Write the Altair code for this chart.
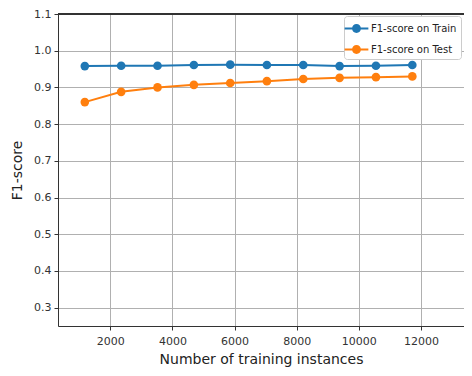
import altair as alt
import pandas as pd

sizes = [1180, 2350, 3520, 4690, 5860, 7040, 8210, 9380, 10550, 11720]
train_f1 = [0.958, 0.959, 0.959, 0.961, 0.962, 0.961, 0.961, 0.958, 0.959, 0.961]
test_f1 = [0.860, 0.888, 0.900, 0.907, 0.912, 0.917, 0.923, 0.926, 0.928, 0.930]
series = ["F1-score on Train", "F1-score on Test"]
colors = ["#1f77b4", "#ff7f0e"]
x_ticks = [2000, 4000, 6000, 8000, 10000, 12000]
y_ticks = [0.3, 0.4, 0.5, 0.6, 0.7, 0.8, 0.9, 1.0, 1.1]
y_top = 1.1

rows = []
for s, vals in zip(series, [train_f1, test_f1]):
    for x, v in zip(sizes, vals):
        rows.append({"n": x, "f1": v, "series": s})
df = pd.DataFrame(rows)

font = "DejaVu Sans"
xscale = alt.Scale(domain=[317, 13384], nice=False, zero=False)
yscale = alt.Scale(domain=[0.25, 1.1], nice=False, zero=False)
xaxis = alt.Axis(values=x_ticks, format="d", title="Number of training instances",
                 titleFontSize=14, titleFont=font, titleFontWeight="normal",
                 titleColor="#222", labelFont=font, labelFontSize=11,
                 labelColor="#333", tickColor="#333", domainColor="#333",
                 tickSize=4, labelPadding=5, titlePadding=6,
                 gridColor="#b0b0b0", gridWidth=1, labelFlush=False)
yaxis = alt.Axis(values=y_ticks, format=".1f", title="F1-score",
                 titleFontSize=14, titleFont=font, titleFontWeight="normal",
                 titleColor="#222", labelFont=font, labelFontSize=11,
                 labelColor="#333", tickColor="#333", domainColor="#333",
                 tickSize=4, labelPadding=3, titlePadding=9,
                 gridColor="#b0b0b0", gridWidth=1, labelFlush=False)
xenc = alt.X("n:Q", scale=xscale, axis=xaxis)
yenc = alt.Y("f1:Q", scale=yscale, axis=yaxis)
cscale = alt.Scale(domain=series, range=colors)

sym = ("M-1.6,-0.12 L-0.55,-0.12 L-0.55,0.12 L-1.6,0.12 Z "
       "M0.55,-0.12 L1.6,-0.12 L1.6,0.12 L0.55,0.12 Z "
       "M0.6,0 A0.6,0.6 0 1,1 -0.6,0 A0.6,0.6 0 1,1 0.6,0 Z")

lines = alt.Chart(df).mark_line(strokeWidth=2).encode(
    x=xenc, y=yenc,
    color=alt.Color("series:N", scale=cscale, legend=None),
)
points = alt.Chart(df).mark_point(filled=True, size=75, opacity=1).encode(
    x=xenc, y=yenc,
    color=alt.Color("series:N", scale=cscale, sort=series,
                    legend=alt.Legend(title=None, orient="none", legendX=286, legendY=2,
                                      symbolType=sym, symbolSize=220,
                                      labelFont=font, labelFontSize=10, labelColor="#222",
                                      fillColor="white", strokeColor="#cccccc",
                                      padding=4, rowPadding=7, cornerRadius=3,
                                      labelOffset=6, symbolOpacity=1)),
)
top_spine = alt.Chart(df).mark_rule(color="#333", strokeWidth=1).encode(
    y=alt.YDatum(y_top, scale=yscale, axis=yaxis)
)

chart = alt.layer(lines, points, top_spine).resolve_legend(color="independent").properties(
    width=406, height=312,
    autosize=alt.AutoSizeParams(type="none"),
    padding={"left": 50, "top": 6, "right": 0, "bottom": 44},
).configure_view(stroke=None).configure(background="white")

chart.save("out.html", embed_options={"renderer": "svg", "actions": False})
